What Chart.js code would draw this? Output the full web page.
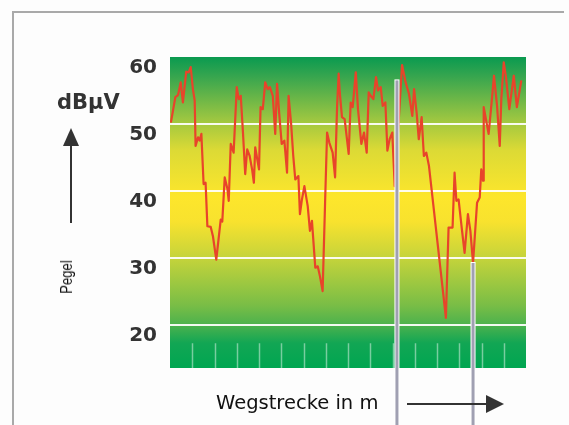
<!DOCTYPE html>
<html>
<head>
<meta charset="utf-8">
<script src="https://cdn.jsdelivr.net/npm/chart.js@4/dist/chart.umd.min.js"></script>
<style>
  html, body { margin: 0; padding: 0; background: #fdfdfd; overflow: hidden; }
  #wrap { position: relative; width: 569px; height: 425px; overflow: hidden; }
  .rule { position: absolute; background: #a9a9a9; }
  #ftop { left: 12px; top: 11px; width: 552px; height: 2px; }
  #fleft { left: 12px; top: 11px; width: 2px; height: 414px; }
  canvas { position: absolute; left: 0; top: 0; }
  .lbl { position: absolute; white-space: nowrap; color: #333; }
  #unit { left: 57px; top: 90px; font: bold 21px "DejaVu Sans", sans-serif; line-height: 24px; }
  #pegel { left: 67px; top: 277px; font: 16px "Liberation Sans", sans-serif; color: #111;
           transform: translate(-50%, -50%) rotate(-90deg) scaleX(0.82); }
  #weg { left: 216px; top: 392px; font: 19.5px "DejaVu Sans", sans-serif; line-height: 22px; color: #111; }
</style>
</head>
<body>
<div id="wrap">
  <div class="rule" id="ftop"></div>
  <div class="rule" id="fleft"></div>
  <canvas id="c" width="569" height="425"></canvas>
  <div class="lbl" id="unit">dBµV</div>
  <div class="lbl" id="pegel">Pegel</div>
  <div class="lbl" id="weg">Wegstrecke in m</div>
</div>
<script>
// Wegstrecke (relative Einheiten, 0..160) und Pegel in dBµV
const distance = [
  0.4, 2.4, 3.6, 4.8, 5.8, 7.3, 8.4, 9.3, 10.3, 11.1,
  11.5, 12.6, 13.3, 14.1, 15.1, 16.0, 16.8, 18.3, 19.3, 20.8,
  22.8, 23.5, 24.6, 25.8, 26.4, 27.3, 28.6, 30.0, 30.9, 31.8,
  32.8, 33.8, 34.7, 35.8, 36.9, 37.7, 38.3, 40.0, 40.7, 41.7,
  42.8, 43.9, 44.9, 46.2, 47.3, 48.1, 49.1, 50.2, 51.4, 52.6,
  53.3, 54.4, 55.4, 56.3, 57.7, 58.4, 59.3, 60.4, 61.9, 62.9,
  63.8, 65.3, 66.4, 67.4, 68.6, 69.7, 70.6, 71.6, 73.1, 74.2,
  75.1, 75.8, 76.3, 77.3, 78.5, 80.3, 81.2, 82.1, 83.5, 84.5,
  86.0, 87.2, 88.4, 89.3, 90.2, 91.4, 92.6, 93.5, 94.7, 95.6,
  96.8, 97.7, 98.7, 99.9, 101.0, 104.3, 104.8, 105.9, 107.4, 108.9,
  109.7, 110.9, 111.8, 113.1, 114.1, 115.2, 116.4, 124.0, 125.2, 127.0,
  127.9, 128.7, 129.7, 131.2, 132.4, 133.9, 135.0, 136.2, 138.0, 139.2,
  139.9, 140.7, 141.0, 142.0, 143.2, 144.4, 145.6, 147.0, 148.2, 148.9,
  150.0, 151.0, 152.5, 154.5, 155.9, 157.9
];
const level = [
  50.2, 54, 54.3, 56.2, 53.2, 57.8, 57.7, 58.5, 55.2, 53.5,
  46.7, 48, 47.5, 48.5, 41, 41.2, 34.7, 34.6, 33.2, 29.7,
  35.7, 35.4, 42, 40.3, 38.5, 47, 45.7, 55.5, 53.7, 54.2,
  48.7, 42.5, 46.2, 45.2, 43.2, 41.2, 46.5, 43.2, 52.5, 52.2,
  56.2, 55.2, 55.5, 54.2, 48.5, 56, 51.5, 47, 47.5, 42.7,
  54.2, 50.2, 45.2, 41.7, 42.2, 36.5, 38.7, 40.7, 37.7, 34,
  35.5, 28.5, 28.7, 27.2, 25, 38.2, 48.7, 47.2, 45.7, 42,
  52.7, 57.5, 54.7, 51, 50.7, 45.5, 53.2, 52.5, 57.7, 52.2,
  47, 48.7, 45.7, 54.7, 54.2, 53.7, 57, 55, 55.5, 52.7,
  53.2, 46, 47.7, 48.7, 40.7, 58.8, 58, 56.2, 54.5, 51.2,
  55.2, 51.5, 47.7, 51, 45.2, 45.7, 43.7, 21, 34.5, 34.5,
  42.7, 38.5, 38.7, 34.2, 30.7, 36.5, 34, 29.2, 38.2, 39,
  43.2, 41.5, 52.5, 50.7, 48.5, 52.7, 57.2, 52.7, 46.7, 53.7,
  59.2, 57, 52.2, 57.2, 52.5, 56.5
];
const yTicks = [20, 30, 40, 50, 60];
const markerDistance = [102.0, 136.2];
const markerTop = [56.5, 29.2];

const points = distance.map((d, i) => ({ x: d, y: level[i] }));

// Hintergrundverlauf gruen -> gelb -> gruen
const bgPlugin = {
  id: "bg",
  beforeDraw(chart) {
    const { ctx, chartArea: a } = chart;
    const g = ctx.createLinearGradient(0, a.top, 0, a.bottom);
    g.addColorStop(0, "#0a9a50");
    g.addColorStop(0.06, "#35a54f");
    g.addColorStop(0.2, "#9cc641");
    g.addColorStop(0.3, "#dcda35");
    g.addColorStop(0.45, "#fde62c");
    g.addColorStop(0.53, "#f8e22e");
    g.addColorStop(0.65, "#c3d33b");
    g.addColorStop(0.8, "#78bd46");
    g.addColorStop(0.86, "#4db24d");
    g.addColorStop(0.92, "#12a654");
    g.addColorStop(1, "#00a651");
    ctx.save();
    ctx.fillStyle = g;
    ctx.fillRect(a.left, a.top, a.right - a.left, a.bottom - a.top);
    ctx.restore();
  },
  beforeDatasetsDraw(chart) {
    // kurze Striche unten im gruenen Band
    const { ctx, chartArea: a, scales } = chart;
    const y0 = scales.y.getPixelForValue(17.2);
    ctx.save();
    ctx.strokeStyle = "rgba(255,255,255,0.45)";
    ctx.lineWidth = 1.5;
    for (let v = 10; v < 160; v += 10) {
      const x = Math.round(scales.x.getPixelForValue(v)) + 0.5;
      ctx.beginPath();
      ctx.moveTo(x, y0);
      ctx.lineTo(x, a.bottom);
      ctx.stroke();
    }
    ctx.restore();
  },
  afterDraw(chart) {
    const { ctx, scales } = chart;
    const H = chart.height;
    ctx.save();
    // Markierungslinien
    markerDistance.forEach((d, i) => {
      const x = scales.x.getPixelForValue(d);
      const yt = scales.y.getPixelForValue(markerTop[i]);
      ctx.fillStyle = "#ffffff";
      ctx.fillRect(x - 2.5, yt - 1, 5, H - yt + 1);
      ctx.fillStyle = "#a0a0b2";
      ctx.fillRect(x - 1.5, yt, 3, H - yt);
    });
    // Pfeil nach oben (Pegel)
    ctx.strokeStyle = "#333";
    ctx.fillStyle = "#333";
    ctx.lineWidth = 2;
    ctx.beginPath();
    ctx.moveTo(71, 223);
    ctx.lineTo(71, 140);
    ctx.stroke();
    ctx.beginPath();
    ctx.moveTo(71, 128);
    ctx.lineTo(79, 146);
    ctx.lineTo(63, 146);
    ctx.closePath();
    ctx.fill();
    // Pfeil nach rechts (Wegstrecke)
    ctx.beginPath();
    ctx.moveTo(407, 404);
    ctx.lineTo(488, 404);
    ctx.stroke();
    ctx.beginPath();
    ctx.moveTo(504, 404);
    ctx.lineTo(486, 395);
    ctx.lineTo(486, 413);
    ctx.closePath();
    ctx.fill();
    ctx.restore();
  }
};

new Chart(document.getElementById("c").getContext("2d"), {
  type: "line",
  data: {
    datasets: [{
      data: points,
      borderColor: "#e8442a",
      borderWidth: 2.2,
      borderJoinStyle: "round",
      pointRadius: 0,
      tension: 0,
      fill: false
    }]
  },
  options: {
    responsive: false,
    animation: false,
    maintainAspectRatio: false,
    layout: { padding: { top: 57, right: 43, bottom: 57, left: 0 } },
    plugins: { legend: { display: false }, tooltip: { enabled: false } },
    scales: {
      x: {
        type: "linear",
        min: 0,
        max: 160,
        border: { display: false },
        grid: { display: false, drawTicks: false },
        ticks: { display: false },
        afterFit: (s) => { s.height = 0; }
      },
      y: {
        min: 13.5,
        max: 60,
        border: { display: false },
        afterBuildTicks: (s) => { s.ticks = yTicks.map((v) => ({ value: v })); },
        afterFit: (s) => { s.width = 170; },
        grid: {
          drawTicks: false,
          lineWidth: 2,
          color: (c) => (c.tick && c.tick.value === 60 ? "rgba(0,0,0,0)" : "rgba(255,255,255,0.92)")
        },
        ticks: {
          padding: 13,
          labelOffset: 11,
          color: "#333",
          font: { family: "DejaVu Sans", weight: "bold", size: 20 }
        }
      }
    }
  },
  plugins: [bgPlugin]
});
</script>
</body>
</html>
